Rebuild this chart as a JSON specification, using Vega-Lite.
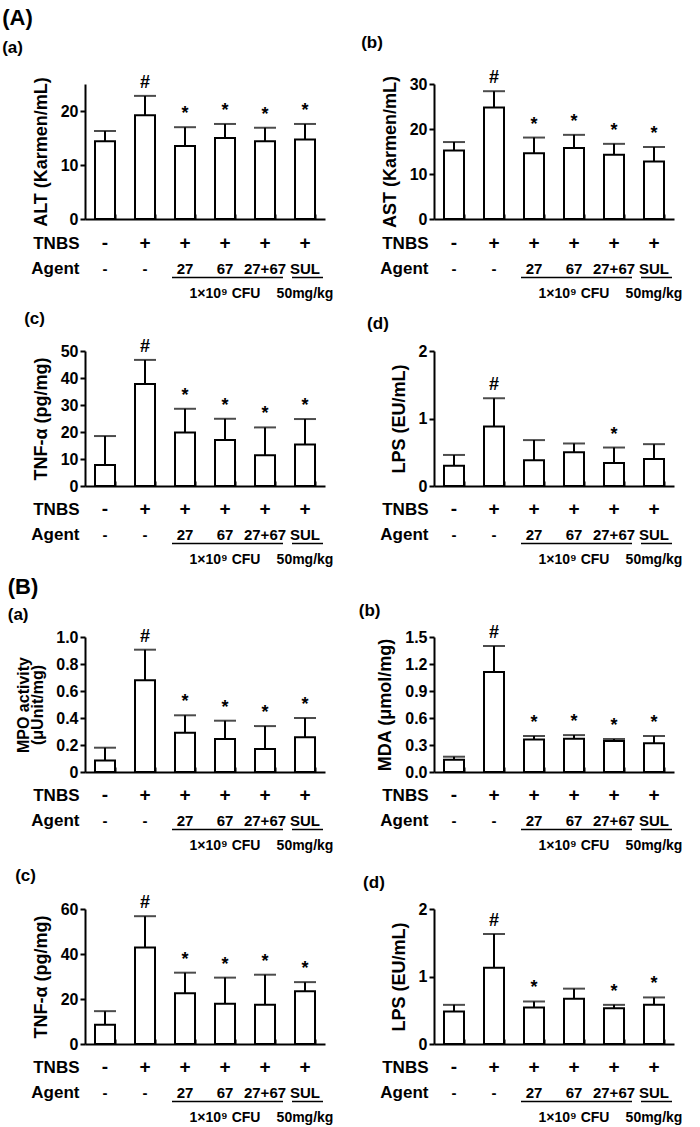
{
  "$schema": "https://vega.github.io/schema/vega-lite/v6.json",
  "padding": {"left": 2, "top": 2, "right": 2, "bottom": 2},
  "background": "white",
  "columns": 2,
  "spacing": {"row": 4, "column": 24},
  "datasets": {
    "bars": [
      {"panel": "Aa", "group": "g1", "mean": 14.4, "upper": 16.3, "sig": ""},
      {"panel": "Aa", "group": "g2", "mean": 19.2, "upper": 22.8, "sig": "#"},
      {"panel": "Aa", "group": "g3", "mean": 13.5, "upper": 17.0, "sig": "*"},
      {"panel": "Aa", "group": "g4", "mean": 15.0, "upper": 17.6, "sig": "*"},
      {"panel": "Aa", "group": "g5", "mean": 14.4, "upper": 16.9, "sig": "*"},
      {"panel": "Aa", "group": "g6", "mean": 14.7, "upper": 17.6, "sig": "*"},
      {"panel": "Ab", "group": "g1", "mean": 15.2, "upper": 17.1, "sig": ""},
      {"panel": "Ab", "group": "g2", "mean": 24.8, "upper": 28.4, "sig": "#"},
      {"panel": "Ab", "group": "g3", "mean": 14.6, "upper": 18.1, "sig": "*"},
      {"panel": "Ab", "group": "g4", "mean": 15.8, "upper": 18.7, "sig": "*"},
      {"panel": "Ab", "group": "g5", "mean": 14.3, "upper": 16.7, "sig": "*"},
      {"panel": "Ab", "group": "g6", "mean": 12.8, "upper": 16.0, "sig": "*"},
      {"panel": "Ac", "group": "g1", "mean": 7.8, "upper": 18.5, "sig": ""},
      {"panel": "Ac", "group": "g2", "mean": 37.8, "upper": 46.7, "sig": "#"},
      {"panel": "Ac", "group": "g3", "mean": 19.8, "upper": 28.6, "sig": "*"},
      {"panel": "Ac", "group": "g4", "mean": 17.0, "upper": 24.9, "sig": "*"},
      {"panel": "Ac", "group": "g5", "mean": 11.4, "upper": 21.7, "sig": "*"},
      {"panel": "Ac", "group": "g6", "mean": 15.4, "upper": 24.8, "sig": "*"},
      {"panel": "Ad", "group": "g1", "mean": 0.30, "upper": 0.46, "sig": ""},
      {"panel": "Ad", "group": "g2", "mean": 0.88, "upper": 1.30, "sig": "#"},
      {"panel": "Ad", "group": "g3", "mean": 0.38, "upper": 0.68, "sig": ""},
      {"panel": "Ad", "group": "g4", "mean": 0.50, "upper": 0.63, "sig": ""},
      {"panel": "Ad", "group": "g5", "mean": 0.34, "upper": 0.57, "sig": "*"},
      {"panel": "Ad", "group": "g6", "mean": 0.40, "upper": 0.62, "sig": ""},
      {"panel": "Ba", "group": "g1", "mean": 0.086, "upper": 0.18, "sig": ""},
      {"panel": "Ba", "group": "g2", "mean": 0.68, "upper": 0.906, "sig": "#"},
      {"panel": "Ba", "group": "g3", "mean": 0.29, "upper": 0.42, "sig": "*"},
      {"panel": "Ba", "group": "g4", "mean": 0.244, "upper": 0.38, "sig": "*"},
      {"panel": "Ba", "group": "g5", "mean": 0.17, "upper": 0.34, "sig": "*"},
      {"panel": "Ba", "group": "g6", "mean": 0.257, "upper": 0.40, "sig": "*"},
      {"panel": "Bb", "group": "g1", "mean": 0.137, "upper": 0.17, "sig": ""},
      {"panel": "Bb", "group": "g2", "mean": 1.11, "upper": 1.40, "sig": "#"},
      {"panel": "Bb", "group": "g3", "mean": 0.36, "upper": 0.40, "sig": "*"},
      {"panel": "Bb", "group": "g4", "mean": 0.37, "upper": 0.41, "sig": "*"},
      {"panel": "Bb", "group": "g5", "mean": 0.344, "upper": 0.367, "sig": "*"},
      {"panel": "Bb", "group": "g6", "mean": 0.32, "upper": 0.40, "sig": "*"},
      {"panel": "Bc", "group": "g1", "mean": 8.6, "upper": 14.6, "sig": ""},
      {"panel": "Bc", "group": "g2", "mean": 42.9, "upper": 56.8, "sig": "#"},
      {"panel": "Bc", "group": "g3", "mean": 22.6, "upper": 31.7, "sig": "*"},
      {"panel": "Bc", "group": "g4", "mean": 17.9, "upper": 29.5, "sig": "*"},
      {"panel": "Bc", "group": "g5", "mean": 17.4, "upper": 30.8, "sig": "*"},
      {"panel": "Bc", "group": "g6", "mean": 23.5, "upper": 27.5, "sig": "*"},
      {"panel": "Bd", "group": "g1", "mean": 0.48, "upper": 0.58, "sig": ""},
      {"panel": "Bd", "group": "g2", "mean": 1.13, "upper": 1.63, "sig": "#"},
      {"panel": "Bd", "group": "g3", "mean": 0.54, "upper": 0.63, "sig": "*"},
      {"panel": "Bd", "group": "g4", "mean": 0.67, "upper": 0.82, "sig": ""},
      {"panel": "Bd", "group": "g5", "mean": 0.53, "upper": 0.58, "sig": "*"},
      {"panel": "Bd", "group": "g6", "mean": 0.58, "upper": 0.69, "sig": "*"}
    ],
    "ann": [
      {"group": "g1", "row": "TNBS", "text": "-"},
      {"group": "g2", "row": "TNBS", "text": "+"},
      {"group": "g3", "row": "TNBS", "text": "+"},
      {"group": "g4", "row": "TNBS", "text": "+"},
      {"group": "g5", "row": "TNBS", "text": "+"},
      {"group": "g6", "row": "TNBS", "text": "+"},
      {"group": "g1", "row": "Agent", "text": "-"},
      {"group": "g2", "row": "Agent", "text": "-"},
      {"group": "g3", "row": "Agent", "text": "27"},
      {"group": "g4", "row": "Agent", "text": "67"},
      {"group": "g5", "row": "Agent", "text": "27+67"},
      {"group": "g6", "row": "Agent", "text": "SUL"},
      {"group": "g4", "row": "unit", "text": "1×10⁹ CFU"},
      {"group": "g6", "row": "unit", "text": "50mg/kg"}
    ],
    "lines": [
      {"from": "g3", "to": "g5", "row": "Agent"},
      {"from": "g6", "to": "g6", "row": "Agent"}
    ]
  },
  "concat": [
    {
      "title": {"text": "(A)", "subtitle": "(a)", "fontSize": 22, "dx": -30, "offset": 17, "subtitlePadding": 10},
      "width": 240, "height": 135,
      "data": {"name": "bars"},
      "transform": [{"filter": "datum.panel === 'Aa'"}],
      "encoding": {"x": {"field": "group", "type": "nominal", "scale": {"domain": ["g1","g2","g3","g4","g5","g6"], "paddingInner": 0.5, "paddingOuter": 0.25}, "axis": {"title": null, "labels": false, "tickBand": "extent", "tickSize": -5}}},
      "layer": [
        {"mark": {"type": "bar", "fill": "white", "stroke": "black", "strokeWidth": 2}, "encoding": {"y": {"field": "mean", "type": "quantitative", "scale": {"domain": [0, 25], "nice": false}, "axis": {"title": "ALT (Karmen/mL)", "values": [0, 10, 20]}}}},
        {"mark": {"type": "rule", "color": "black", "strokeWidth": 2}, "encoding": {"y": {"field": "mean", "type": "quantitative", "axis": {"title": "ALT (Karmen/mL)", "values": [0, 10, 20]}}, "y2": {"field": "upper"}}},
        {"mark": {"type": "tick", "color": "black", "thickness": 2, "size": 22}, "encoding": {"y": {"field": "upper", "type": "quantitative", "axis": {"title": "ALT (Karmen/mL)", "values": [0, 10, 20]}}}},
        {"mark": {"type": "text", "baseline": "bottom", "dy": -4, "fontSize": 18}, "encoding": {"y": {"field": "upper", "type": "quantitative", "axis": {"title": "ALT (Karmen/mL)", "values": [0, 10, 20]}}, "text": {"field": "sig"}}}
      ]
    },
    {
      "title": {"text": " ", "subtitle": "(b)", "fontSize": 22, "dx": -20, "offset": 17, "subtitlePadding": 10},
      "width": 240, "height": 135,
      "data": {"name": "bars"},
      "transform": [{"filter": "datum.panel === 'Ab'"}],
      "encoding": {"x": {"field": "group", "type": "nominal", "scale": {"domain": ["g1","g2","g3","g4","g5","g6"], "paddingInner": 0.5, "paddingOuter": 0.25}, "axis": {"title": null, "labels": false, "tickBand": "extent", "tickSize": -5}}},
      "layer": [
        {"mark": {"type": "bar", "fill": "white", "stroke": "black", "strokeWidth": 2}, "encoding": {"y": {"field": "mean", "type": "quantitative", "scale": {"domain": [0, 30], "nice": false}, "axis": {"title": "AST (Karmen/mL)", "values": [0, 10, 20, 30]}}}},
        {"mark": {"type": "rule", "color": "black", "strokeWidth": 2}, "encoding": {"y": {"field": "mean", "type": "quantitative", "axis": {"title": "AST (Karmen/mL)", "values": [0, 10, 20, 30]}}, "y2": {"field": "upper"}}},
        {"mark": {"type": "tick", "color": "black", "thickness": 2, "size": 22}, "encoding": {"y": {"field": "upper", "type": "quantitative", "axis": {"title": "AST (Karmen/mL)", "values": [0, 10, 20, 30]}}}},
        {"mark": {"type": "text", "baseline": "bottom", "dy": -4, "fontSize": 18}, "encoding": {"y": {"field": "upper", "type": "quantitative", "axis": {"title": "AST (Karmen/mL)", "values": [0, 10, 20, 30]}}, "text": {"field": "sig"}}}
      ]
    },
    {
      "width": 240, "height": 73,
      "data": {"name": "ann"},
      "encoding": {
        "x": {"field": "group", "type": "nominal", "scale": {"domain": ["g1","g2","g3","g4","g5","g6"], "paddingInner": 0.5, "paddingOuter": 0.25}, "axis": null},
        "y": {"field": "row", "type": "nominal", "scale": {"type": "point", "domain": ["TNBS", "Agent", "unit"], "range": [11, 62], "padding": 0}, "axis": {"title": null, "domain": false, "ticks": false, "labelPadding": 6, "labelFontSize": 17, "labelExpr": "datum.value === 'unit' ? '' : datum.label"}}
      },
      "layer": [
        {"transform": [{"filter": "datum.row === 'TNBS'"}], "mark": {"type": "text", "fontSize": 19}, "encoding": {"text": {"field": "text"}}},
        {"transform": [{"filter": "datum.row === 'Agent'"}], "mark": {"type": "text", "fontSize": 15}, "encoding": {"text": {"field": "text"}}},
        {"transform": [{"filter": "datum.row === 'unit'"}], "mark": {"type": "text", "fontSize": 14}, "encoding": {"text": {"field": "text"}}},
        {"data": {"name": "lines"}, "mark": {"type": "rule", "color": "black", "strokeWidth": 1.5, "yOffset": 9, "xOffset": -13, "x2Offset": 18}, "encoding": {"x": {"field": "from", "type": "nominal"}, "x2": {"field": "to"}, "y": {"field": "row", "type": "nominal"}}}
      ]
    },
    {
      "width": 240, "height": 73,
      "data": {"name": "ann"},
      "encoding": {
        "x": {"field": "group", "type": "nominal", "scale": {"domain": ["g1","g2","g3","g4","g5","g6"], "paddingInner": 0.5, "paddingOuter": 0.25}, "axis": null},
        "y": {"field": "row", "type": "nominal", "scale": {"type": "point", "domain": ["TNBS", "Agent", "unit"], "range": [11, 62], "padding": 0}, "axis": {"title": null, "domain": false, "ticks": false, "labelPadding": 6, "labelFontSize": 17, "labelExpr": "datum.value === 'unit' ? '' : datum.label"}}
      },
      "layer": [
        {"transform": [{"filter": "datum.row === 'TNBS'"}], "mark": {"type": "text", "fontSize": 19}, "encoding": {"text": {"field": "text"}}},
        {"transform": [{"filter": "datum.row === 'Agent'"}], "mark": {"type": "text", "fontSize": 15}, "encoding": {"text": {"field": "text"}}},
        {"transform": [{"filter": "datum.row === 'unit'"}], "mark": {"type": "text", "fontSize": 14}, "encoding": {"text": {"field": "text"}}},
        {"data": {"name": "lines"}, "mark": {"type": "rule", "color": "black", "strokeWidth": 1.5, "yOffset": 9, "xOffset": -13, "x2Offset": 18}, "encoding": {"x": {"field": "from", "type": "nominal"}, "x2": {"field": "to"}, "y": {"field": "row", "type": "nominal"}}}
      ]
    },
    {
      "title": {"text": "(c)", "dx": -8, "offset": 10},
      "width": 240, "height": 135,
      "data": {"name": "bars"},
      "transform": [{"filter": "datum.panel === 'Ac'"}],
      "encoding": {"x": {"field": "group", "type": "nominal", "scale": {"domain": ["g1","g2","g3","g4","g5","g6"], "paddingInner": 0.5, "paddingOuter": 0.25}, "axis": {"title": null, "labels": false, "tickBand": "extent", "tickSize": -5}}},
      "layer": [
        {"mark": {"type": "bar", "fill": "white", "stroke": "black", "strokeWidth": 2}, "encoding": {"y": {"field": "mean", "type": "quantitative", "scale": {"domain": [0, 50], "nice": false}, "axis": {"title": "TNF-α (pg/mg)", "values": [0, 10, 20, 30, 40, 50]}}}},
        {"mark": {"type": "rule", "color": "black", "strokeWidth": 2}, "encoding": {"y": {"field": "mean", "type": "quantitative", "axis": {"title": "TNF-α (pg/mg)", "values": [0, 10, 20, 30, 40, 50]}}, "y2": {"field": "upper"}}},
        {"mark": {"type": "tick", "color": "black", "thickness": 2, "size": 22}, "encoding": {"y": {"field": "upper", "type": "quantitative", "axis": {"title": "TNF-α (pg/mg)", "values": [0, 10, 20, 30, 40, 50]}}}},
        {"mark": {"type": "text", "baseline": "bottom", "dy": -4, "fontSize": 18}, "encoding": {"y": {"field": "upper", "type": "quantitative", "axis": {"title": "TNF-α (pg/mg)", "values": [0, 10, 20, 30, 40, 50]}}, "text": {"field": "sig"}}}
      ]
    },
    {
      "title": {"text": "(d)", "dx": -23, "offset": 10},
      "width": 240, "height": 135,
      "data": {"name": "bars"},
      "transform": [{"filter": "datum.panel === 'Ad'"}],
      "encoding": {"x": {"field": "group", "type": "nominal", "scale": {"domain": ["g1","g2","g3","g4","g5","g6"], "paddingInner": 0.5, "paddingOuter": 0.25}, "axis": {"title": null, "labels": false, "tickBand": "extent", "tickSize": -5}}},
      "layer": [
        {"mark": {"type": "bar", "fill": "white", "stroke": "black", "strokeWidth": 2}, "encoding": {"y": {"field": "mean", "type": "quantitative", "scale": {"domain": [0, 2], "nice": false}, "axis": {"title": "LPS (EU/mL)", "values": [0, 1, 2], "labelExpr": "toString(datum.value)"}}}},
        {"mark": {"type": "rule", "color": "black", "strokeWidth": 2}, "encoding": {"y": {"field": "mean", "type": "quantitative", "axis": {"title": "LPS (EU/mL)", "values": [0, 1, 2], "labelExpr": "toString(datum.value)"}}, "y2": {"field": "upper"}}},
        {"mark": {"type": "tick", "color": "black", "thickness": 2, "size": 22}, "encoding": {"y": {"field": "upper", "type": "quantitative", "axis": {"title": "LPS (EU/mL)", "values": [0, 1, 2], "labelExpr": "toString(datum.value)"}}}},
        {"mark": {"type": "text", "baseline": "bottom", "dy": -4, "fontSize": 18}, "encoding": {"y": {"field": "upper", "type": "quantitative", "axis": {"title": "LPS (EU/mL)", "values": [0, 1, 2], "labelExpr": "toString(datum.value)"}}, "text": {"field": "sig"}}}
      ]
    },
    {
      "width": 240, "height": 63,
      "data": {"name": "ann"},
      "encoding": {
        "x": {"field": "group", "type": "nominal", "scale": {"domain": ["g1","g2","g3","g4","g5","g6"], "paddingInner": 0.5, "paddingOuter": 0.25}, "axis": null},
        "y": {"field": "row", "type": "nominal", "scale": {"type": "point", "domain": ["TNBS", "Agent", "unit"], "range": [11, 62], "padding": 0}, "axis": {"title": null, "domain": false, "ticks": false, "labelPadding": 6, "labelFontSize": 17, "labelExpr": "datum.value === 'unit' ? '' : datum.label"}}
      },
      "layer": [
        {"transform": [{"filter": "datum.row === 'TNBS'"}], "mark": {"type": "text", "fontSize": 19}, "encoding": {"text": {"field": "text"}}},
        {"transform": [{"filter": "datum.row === 'Agent'"}], "mark": {"type": "text", "fontSize": 15}, "encoding": {"text": {"field": "text"}}},
        {"transform": [{"filter": "datum.row === 'unit'"}], "mark": {"type": "text", "fontSize": 14}, "encoding": {"text": {"field": "text"}}},
        {"data": {"name": "lines"}, "mark": {"type": "rule", "color": "black", "strokeWidth": 1.5, "yOffset": 9, "xOffset": -13, "x2Offset": 18}, "encoding": {"x": {"field": "from", "type": "nominal"}, "x2": {"field": "to"}, "y": {"field": "row", "type": "nominal"}}}
      ]
    },
    {
      "width": 240, "height": 63,
      "data": {"name": "ann"},
      "encoding": {
        "x": {"field": "group", "type": "nominal", "scale": {"domain": ["g1","g2","g3","g4","g5","g6"], "paddingInner": 0.5, "paddingOuter": 0.25}, "axis": null},
        "y": {"field": "row", "type": "nominal", "scale": {"type": "point", "domain": ["TNBS", "Agent", "unit"], "range": [11, 62], "padding": 0}, "axis": {"title": null, "domain": false, "ticks": false, "labelPadding": 6, "labelFontSize": 17, "labelExpr": "datum.value === 'unit' ? '' : datum.label"}}
      },
      "layer": [
        {"transform": [{"filter": "datum.row === 'TNBS'"}], "mark": {"type": "text", "fontSize": 19}, "encoding": {"text": {"field": "text"}}},
        {"transform": [{"filter": "datum.row === 'Agent'"}], "mark": {"type": "text", "fontSize": 15}, "encoding": {"text": {"field": "text"}}},
        {"transform": [{"filter": "datum.row === 'unit'"}], "mark": {"type": "text", "fontSize": 14}, "encoding": {"text": {"field": "text"}}},
        {"data": {"name": "lines"}, "mark": {"type": "rule", "color": "black", "strokeWidth": 1.5, "yOffset": 9, "xOffset": -13, "x2Offset": 18}, "encoding": {"x": {"field": "from", "type": "nominal"}, "x2": {"field": "to"}, "y": {"field": "row", "type": "nominal"}}}
      ]
    },
    {
      "title": {"text": "(B)", "subtitle": "(a)", "fontSize": 22, "dx": -8, "offset": 4, "subtitlePadding": 8},
      "width": 240, "height": 135,
      "data": {"name": "bars"},
      "transform": [{"filter": "datum.panel === 'Ba'"}],
      "encoding": {"x": {"field": "group", "type": "nominal", "scale": {"domain": ["g1","g2","g3","g4","g5","g6"], "paddingInner": 0.5, "paddingOuter": 0.25}, "axis": {"title": null, "labels": false, "tickBand": "extent", "tickSize": -5}}},
      "layer": [
        {"mark": {"type": "bar", "fill": "white", "stroke": "black", "strokeWidth": 2}, "encoding": {"y": {"field": "mean", "type": "quantitative", "scale": {"domain": [0, 1], "nice": false}, "axis": {"title": ["MPO activity", "(μUnit/mg)"], "titleFontSize": 16, "titleLineHeight": 14, "values": [0, 0.2, 0.4, 0.6, 0.8, 1.0], "labelExpr": "datum.value === 0 ? '0' : format(datum.value, '.1f')"}}}},
        {"mark": {"type": "rule", "color": "black", "strokeWidth": 2}, "encoding": {"y": {"field": "mean", "type": "quantitative", "axis": {"title": ["MPO activity", "(μUnit/mg)"], "titleFontSize": 16, "titleLineHeight": 14, "values": [0, 0.2, 0.4, 0.6, 0.8, 1.0], "labelExpr": "datum.value === 0 ? '0' : format(datum.value, '.1f')"}}, "y2": {"field": "upper"}}},
        {"mark": {"type": "tick", "color": "black", "thickness": 2, "size": 22}, "encoding": {"y": {"field": "upper", "type": "quantitative", "axis": {"title": ["MPO activity", "(μUnit/mg)"], "titleFontSize": 16, "titleLineHeight": 14, "values": [0, 0.2, 0.4, 0.6, 0.8, 1.0], "labelExpr": "datum.value === 0 ? '0' : format(datum.value, '.1f')"}}}},
        {"mark": {"type": "text", "baseline": "bottom", "dy": -4, "fontSize": 18}, "encoding": {"y": {"field": "upper", "type": "quantitative", "axis": {"title": ["MPO activity", "(μUnit/mg)"], "titleFontSize": 16, "titleLineHeight": 14, "values": [0, 0.2, 0.4, 0.6, 0.8, 1.0], "labelExpr": "datum.value === 0 ? '0' : format(datum.value, '.1f')"}}, "text": {"field": "sig"}}}
      ]
    },
    {
      "title": {"text": " ", "subtitle": "(b)", "fontSize": 22, "dx": -18, "offset": 4, "subtitlePadding": 8},
      "width": 240, "height": 135,
      "data": {"name": "bars"},
      "transform": [{"filter": "datum.panel === 'Bb'"}],
      "encoding": {"x": {"field": "group", "type": "nominal", "scale": {"domain": ["g1","g2","g3","g4","g5","g6"], "paddingInner": 0.5, "paddingOuter": 0.25}, "axis": {"title": null, "labels": false, "tickBand": "extent", "tickSize": -5}}},
      "layer": [
        {"mark": {"type": "bar", "fill": "white", "stroke": "black", "strokeWidth": 2}, "encoding": {"y": {"field": "mean", "type": "quantitative", "scale": {"domain": [0, 1.5], "nice": false}, "axis": {"title": "MDA (μmol/mg)", "values": [0, 0.3, 0.6, 0.9, 1.2, 1.5], "format": ".1f"}}}},
        {"mark": {"type": "rule", "color": "black", "strokeWidth": 2}, "encoding": {"y": {"field": "mean", "type": "quantitative", "axis": {"title": "MDA (μmol/mg)", "values": [0, 0.3, 0.6, 0.9, 1.2, 1.5], "format": ".1f"}}, "y2": {"field": "upper"}}},
        {"mark": {"type": "tick", "color": "black", "thickness": 2, "size": 22}, "encoding": {"y": {"field": "upper", "type": "quantitative", "axis": {"title": "MDA (μmol/mg)", "values": [0, 0.3, 0.6, 0.9, 1.2, 1.5], "format": ".1f"}}}},
        {"mark": {"type": "text", "baseline": "bottom", "dy": -4, "fontSize": 18}, "encoding": {"y": {"field": "upper", "type": "quantitative", "axis": {"title": "MDA (μmol/mg)", "values": [0, 0.3, 0.6, 0.9, 1.2, 1.5], "format": ".1f"}}, "text": {"field": "sig"}}}
      ]
    },
    {
      "width": 240, "height": 79,
      "data": {"name": "ann"},
      "encoding": {
        "x": {"field": "group", "type": "nominal", "scale": {"domain": ["g1","g2","g3","g4","g5","g6"], "paddingInner": 0.5, "paddingOuter": 0.25}, "axis": null},
        "y": {"field": "row", "type": "nominal", "scale": {"type": "point", "domain": ["TNBS", "Agent", "unit"], "range": [11, 62], "padding": 0}, "axis": {"title": null, "domain": false, "ticks": false, "labelPadding": 6, "labelFontSize": 17, "labelExpr": "datum.value === 'unit' ? '' : datum.label"}}
      },
      "layer": [
        {"transform": [{"filter": "datum.row === 'TNBS'"}], "mark": {"type": "text", "fontSize": 19}, "encoding": {"text": {"field": "text"}}},
        {"transform": [{"filter": "datum.row === 'Agent'"}], "mark": {"type": "text", "fontSize": 15}, "encoding": {"text": {"field": "text"}}},
        {"transform": [{"filter": "datum.row === 'unit'"}], "mark": {"type": "text", "fontSize": 14}, "encoding": {"text": {"field": "text"}}},
        {"data": {"name": "lines"}, "mark": {"type": "rule", "color": "black", "strokeWidth": 1.5, "yOffset": 9, "xOffset": -13, "x2Offset": 18}, "encoding": {"x": {"field": "from", "type": "nominal"}, "x2": {"field": "to"}, "y": {"field": "row", "type": "nominal"}}}
      ]
    },
    {
      "width": 240, "height": 79,
      "data": {"name": "ann"},
      "encoding": {
        "x": {"field": "group", "type": "nominal", "scale": {"domain": ["g1","g2","g3","g4","g5","g6"], "paddingInner": 0.5, "paddingOuter": 0.25}, "axis": null},
        "y": {"field": "row", "type": "nominal", "scale": {"type": "point", "domain": ["TNBS", "Agent", "unit"], "range": [11, 62], "padding": 0}, "axis": {"title": null, "domain": false, "ticks": false, "labelPadding": 6, "labelFontSize": 17, "labelExpr": "datum.value === 'unit' ? '' : datum.label"}}
      },
      "layer": [
        {"transform": [{"filter": "datum.row === 'TNBS'"}], "mark": {"type": "text", "fontSize": 19}, "encoding": {"text": {"field": "text"}}},
        {"transform": [{"filter": "datum.row === 'Agent'"}], "mark": {"type": "text", "fontSize": 15}, "encoding": {"text": {"field": "text"}}},
        {"transform": [{"filter": "datum.row === 'unit'"}], "mark": {"type": "text", "fontSize": 14}, "encoding": {"text": {"field": "text"}}},
        {"data": {"name": "lines"}, "mark": {"type": "rule", "color": "black", "strokeWidth": 1.5, "yOffset": 9, "xOffset": -13, "x2Offset": 18}, "encoding": {"x": {"field": "from", "type": "nominal"}, "x2": {"field": "to"}, "y": {"field": "row", "type": "nominal"}}}
      ]
    },
    {
      "title": {"text": "(c)", "dx": -17, "offset": 9},
      "width": 240, "height": 135,
      "data": {"name": "bars"},
      "transform": [{"filter": "datum.panel === 'Bc'"}],
      "encoding": {"x": {"field": "group", "type": "nominal", "scale": {"domain": ["g1","g2","g3","g4","g5","g6"], "paddingInner": 0.5, "paddingOuter": 0.25}, "axis": {"title": null, "labels": false, "tickBand": "extent", "tickSize": -5}}},
      "layer": [
        {"mark": {"type": "bar", "fill": "white", "stroke": "black", "strokeWidth": 2}, "encoding": {"y": {"field": "mean", "type": "quantitative", "scale": {"domain": [0, 60], "nice": false}, "axis": {"title": "TNF-α (pg/mg)", "values": [0, 20, 40, 60]}}}},
        {"mark": {"type": "rule", "color": "black", "strokeWidth": 2}, "encoding": {"y": {"field": "mean", "type": "quantitative", "axis": {"title": "TNF-α (pg/mg)", "values": [0, 20, 40, 60]}}, "y2": {"field": "upper"}}},
        {"mark": {"type": "tick", "color": "black", "thickness": 2, "size": 22}, "encoding": {"y": {"field": "upper", "type": "quantitative", "axis": {"title": "TNF-α (pg/mg)", "values": [0, 20, 40, 60]}}}},
        {"mark": {"type": "text", "baseline": "bottom", "dy": -4, "fontSize": 18}, "encoding": {"y": {"field": "upper", "type": "quantitative", "axis": {"title": "TNF-α (pg/mg)", "values": [0, 20, 40, 60]}}, "text": {"field": "sig"}}}
      ]
    },
    {
      "title": {"text": "(d)", "dx": -27, "offset": 9},
      "width": 240, "height": 135,
      "data": {"name": "bars"},
      "transform": [{"filter": "datum.panel === 'Bd'"}],
      "encoding": {"x": {"field": "group", "type": "nominal", "scale": {"domain": ["g1","g2","g3","g4","g5","g6"], "paddingInner": 0.5, "paddingOuter": 0.25}, "axis": {"title": null, "labels": false, "tickBand": "extent", "tickSize": -5}}},
      "layer": [
        {"mark": {"type": "bar", "fill": "white", "stroke": "black", "strokeWidth": 2}, "encoding": {"y": {"field": "mean", "type": "quantitative", "scale": {"domain": [0, 2], "nice": false}, "axis": {"title": "LPS (EU/mL)", "values": [0, 1, 2], "labelExpr": "toString(datum.value)"}}}},
        {"mark": {"type": "rule", "color": "black", "strokeWidth": 2}, "encoding": {"y": {"field": "mean", "type": "quantitative", "axis": {"title": "LPS (EU/mL)", "values": [0, 1, 2], "labelExpr": "toString(datum.value)"}}, "y2": {"field": "upper"}}},
        {"mark": {"type": "tick", "color": "black", "thickness": 2, "size": 22}, "encoding": {"y": {"field": "upper", "type": "quantitative", "axis": {"title": "LPS (EU/mL)", "values": [0, 1, 2], "labelExpr": "toString(datum.value)"}}}},
        {"mark": {"type": "text", "baseline": "bottom", "dy": -4, "fontSize": 18}, "encoding": {"y": {"field": "upper", "type": "quantitative", "axis": {"title": "LPS (EU/mL)", "values": [0, 1, 2], "labelExpr": "toString(datum.value)"}}, "text": {"field": "sig"}}}
      ]
    },
    {
      "width": 240, "height": 68,
      "data": {"name": "ann"},
      "encoding": {
        "x": {"field": "group", "type": "nominal", "scale": {"domain": ["g1","g2","g3","g4","g5","g6"], "paddingInner": 0.5, "paddingOuter": 0.25}, "axis": null},
        "y": {"field": "row", "type": "nominal", "scale": {"type": "point", "domain": ["TNBS", "Agent", "unit"], "range": [11, 62], "padding": 0}, "axis": {"title": null, "domain": false, "ticks": false, "labelPadding": 6, "labelFontSize": 17, "labelExpr": "datum.value === 'unit' ? '' : datum.label"}}
      },
      "layer": [
        {"transform": [{"filter": "datum.row === 'TNBS'"}], "mark": {"type": "text", "fontSize": 19}, "encoding": {"text": {"field": "text"}}},
        {"transform": [{"filter": "datum.row === 'Agent'"}], "mark": {"type": "text", "fontSize": 15}, "encoding": {"text": {"field": "text"}}},
        {"transform": [{"filter": "datum.row === 'unit'"}], "mark": {"type": "text", "fontSize": 14}, "encoding": {"text": {"field": "text"}}},
        {"data": {"name": "lines"}, "mark": {"type": "rule", "color": "black", "strokeWidth": 1.5, "yOffset": 9, "xOffset": -13, "x2Offset": 18}, "encoding": {"x": {"field": "from", "type": "nominal"}, "x2": {"field": "to"}, "y": {"field": "row", "type": "nominal"}}}
      ]
    },
    {
      "width": 240, "height": 68,
      "data": {"name": "ann"},
      "encoding": {
        "x": {"field": "group", "type": "nominal", "scale": {"domain": ["g1","g2","g3","g4","g5","g6"], "paddingInner": 0.5, "paddingOuter": 0.25}, "axis": null},
        "y": {"field": "row", "type": "nominal", "scale": {"type": "point", "domain": ["TNBS", "Agent", "unit"], "range": [11, 62], "padding": 0}, "axis": {"title": null, "domain": false, "ticks": false, "labelPadding": 6, "labelFontSize": 17, "labelExpr": "datum.value === 'unit' ? '' : datum.label"}}
      },
      "layer": [
        {"transform": [{"filter": "datum.row === 'TNBS'"}], "mark": {"type": "text", "fontSize": 19}, "encoding": {"text": {"field": "text"}}},
        {"transform": [{"filter": "datum.row === 'Agent'"}], "mark": {"type": "text", "fontSize": 15}, "encoding": {"text": {"field": "text"}}},
        {"transform": [{"filter": "datum.row === 'unit'"}], "mark": {"type": "text", "fontSize": 14}, "encoding": {"text": {"field": "text"}}},
        {"data": {"name": "lines"}, "mark": {"type": "rule", "color": "black", "strokeWidth": 1.5, "yOffset": 9, "xOffset": -13, "x2Offset": 18}, "encoding": {"x": {"field": "from", "type": "nominal"}, "x2": {"field": "to"}, "y": {"field": "row", "type": "nominal"}}}
      ]
    }
  ],
  "config": {
    "view": {"stroke": null},
    "font": "Liberation Sans",
    "axis": {"labelFont": "Liberation Sans", "labelFontSize": 16, "labelFontWeight": "bold", "labelColor": "black", "labelOverlap": false, "titleFont": "Liberation Sans", "titleFontSize": 18, "titleFontWeight": "bold", "titleColor": "black", "domainColor": "black", "domainWidth": 2, "tickColor": "black", "tickWidth": 2, "tickSize": 5, "labelPadding": 2, "titlePadding": 10, "grid": false},
    "title": {"font": "Liberation Sans", "fontSize": 17, "fontWeight": "bold", "color": "black", "anchor": "start", "subtitleFont": "Liberation Sans", "subtitleFontSize": 17, "subtitleFontWeight": "bold", "subtitleColor": "black"},
    "text": {"font": "Liberation Sans", "fontWeight": "bold", "color": "black"}
  }
}
